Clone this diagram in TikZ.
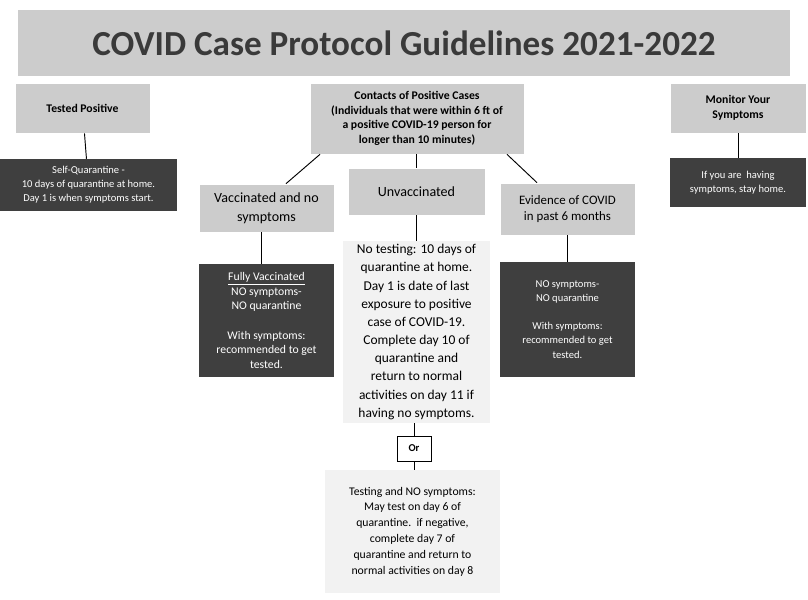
\documentclass[tikz,border=0pt]{standalone}
\usepackage{fontspec}
\setmainfont{Carlito}
\usepackage{xcolor}
\usetikzlibrary{positioning}
\definecolor{boxgray}{HTML}{CCCCCC}
\definecolor{darkbox}{HTML}{3F3F3F}
\definecolor{palebox}{HTML}{F2F2F2}
\definecolor{titletext}{HTML}{3A3A3A}

\begin{document}
\begin{tikzpicture}[x=0.03cm, y=-0.03cm,
    head/.style={fill=boxgray, draw=white, line width=0.6pt, align=center, inner sep=0pt, font=\fontsize{10}{12.5}\selectfont\bfseries},
    sub/.style={fill=boxgray, draw=white, line width=0.6pt, align=center, inner sep=0pt, font=\fontsize{12}{16}\selectfont},
    dark/.style={fill=darkbox, align=center, inner sep=0pt, text=white, font=\fontsize{9}{12}\selectfont},
    pale/.style={fill=palebox, align=center, inner sep=0pt, font=\fontsize{11.5}{15.5}\selectfont},
    link/.style={line width=0.8pt}
]
    \useasboundingbox (0,0) rectangle (808,600);
    % Title
    \node[fill=boxgray, minimum width=772*0.03cm, minimum height=66*0.03cm, inner sep=0pt, font=\fontsize{30}{32}\selectfont\bfseries, text=titletext] (title) at (404,43) {COVID Case Protocol Guidelines 2021-2022};

    % Top row
    \node[head, minimum width=135*0.03cm, minimum height=50*0.03cm] (pos) at (82.5,108) {Tested Positive};
    \node[head, minimum width=214*0.03cm, minimum height=71*0.03cm] (cont) at (417,118.5) {Contacts of Positive Cases\\(Individuals that were within 6 ft of\\a positive COVID-19 person for\\longer than 10 minutes)};
    \node[head, minimum width=136*0.03cm, minimum height=50*0.03cm] (mon) at (738,108) {Monitor Your\\Symptoms};

    % Dark boxes, top row
    \node[dark, minimum width=177*0.03cm, minimum height=52*0.03cm] (selfq) at (88.5,185) {Self-Quarantine -\\10 days of quarantine at home.\\Day 1 is when symptoms start.};
    \node[dark, minimum width=136*0.03cm, minimum height=49*0.03cm] (stay) at (738,182.5) {If you are\ \ having\\symptoms, stay home.};

    % Second row
    \node[sub, minimum width=135*0.03cm, minimum height=48*0.03cm] (vacc) at (266.5,208) {Vaccinated and no\\symptoms};
    \node[sub, minimum width=137*0.03cm, minimum height=47*0.03cm] (unvacc) at (416.5,191.5) {Unvaccinated};
    \node[sub, minimum width=135*0.03cm, minimum height=52*0.03cm, font=\fontsize{11}{14}\selectfont] (evid) at (567.5,209) {Evidence of COVID\\in past 6 months};

    % Third row
    \node[dark, minimum width=135*0.03cm, minimum height=113*0.03cm, font=\fontsize{10}{12.5}\selectfont] (full) at (266.5,320.5) {\underline{Fully Vaccinated}\\NO symptoms-\\NO quarantine\\[12.5pt]With symptoms:\\recommended to get\\tested.};
    \node[pale, minimum width=147*0.03cm, minimum height=182*0.03cm] (notest) at (416.5,332) {No testing: 10 days of\\quarantine at home.\\Day 1 is date of last\\exposure to positive\\case of COVID-19.\\Complete day 10 of\\quarantine and\\return to normal\\activities on day 11 if\\having no symptoms.};
    \node[dark, minimum width=135*0.03cm, minimum height=115*0.03cm] (nosym) at (567.5,319.5) {NO symptoms-\\NO quarantine\\[12pt]With symptoms:\\recommended to get\\tested.};

    % Or and testing branch
    \node[draw, fill=white, line width=0.8pt, minimum width=34*0.03cm, minimum height=25*0.03cm, inner sep=0pt, font=\fontsize{9}{11}\selectfont\bfseries] (or) at (414,448.5) {Or};
    \node[pale, minimum width=175*0.03cm, minimum height=123*0.03cm, font=\fontsize{10}{13.5}\selectfont] (test) at (412.5,531.5) {Testing and NO symptoms:\\May test on day 6 of\\quarantine.\ \ if negative,\\complete day 7 of\\quarantine and return to\\normal activities on day 8};

    % Connectors
    \draw[link] (pos) -- (selfq);
    \draw[link] (mon) -- (stay);
    \draw[link] (cont.south -| 320,0) -- (vacc.north -| 286,0);
    \draw[link] (cont.south -| unvacc) -- (unvacc);
    \draw[link] (cont.south -| 507,0) -- (evid.north -| 537,0);
    \draw[link] (vacc.south -| 261,0) -- (full.north -| 261,0);
    \draw[link] (unvacc) -- (notest);
    \draw[link] (evid) -- (nosym);
    \draw[link] (notest.south -| or) -- (or);
    \draw[link] (or) -- (test.north -| or);
\end{tikzpicture}
\end{document}
